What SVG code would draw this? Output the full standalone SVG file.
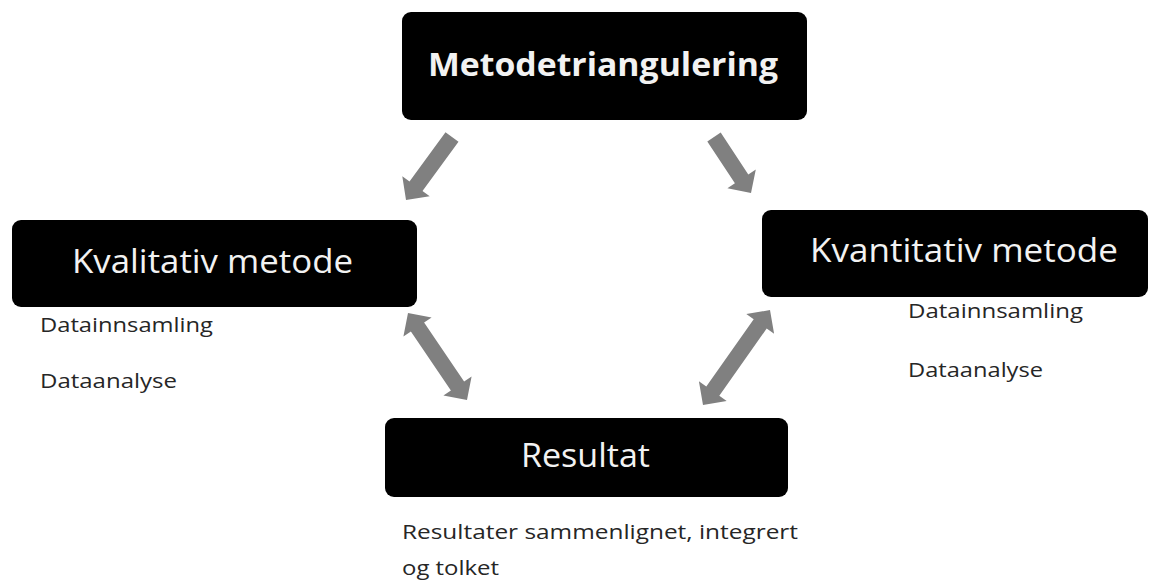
<svg xmlns="http://www.w3.org/2000/svg" width="1158" height="583" viewBox="0 0 1158 583">
  <style>
    .box { fill: #000000; }
    .head { font-family: "Open Sans", "Liberation Sans", sans-serif; fill: #f2f2f2; font-size: 33px; }
    .title { font-weight: bold; font-size: 33px; }
    .note { font-family: "Open Sans", "Liberation Sans", sans-serif; fill: #262626; font-size: 20px; }
    .arrow { fill: #808080; }
  </style>
  <rect width="1158" height="583" fill="#ffffff"/>

  <g id="connectors">
    <!-- Metodetriangulering to Kvalitativ metode -->
    <polygon class="arrow" points="445.5,132.3 409.5,181.6 402.3,176.3 406,200 429.7,196.3 422.5,191 458.5,141.7"/>
    <!-- Metodetriangulering to Kvantitativ metode -->
    <polygon class="arrow" points="707.3,141.4 734.9,183.2 727.4,188.2 751,193 755.8,169.4 748.3,174.4 720.7,132.6"/>
    <!-- Kvalitativ metode and Resultat -->
    <polygon class="arrow" points="403.4,336.6 410.9,331.6 450.9,390.4 443.4,395.4 467,400 471.6,376.4 464.1,381.4 424.1,322.6 431.6,317.6 408,313"/>
    <!-- Kvantitativ metode and Resultat -->
    <polygon class="arrow" points="746.3,314.1 753.7,319.3 706.3,386.5 698.9,381.3 703,405 726.7,400.9 719.3,395.7 766.7,328.5 774.1,333.7 770,310"/>
  </g>

  <g id="metodetriangulering">
    <rect class="box" x="402" y="12" width="405" height="108" rx="9"/>
    <text class="head title" x="428" y="76" textLength="350" lengthAdjust="spacingAndGlyphs">Metodetriangulering</text>
  </g>

  <g id="kvalitativ">
    <rect class="box" x="12" y="220" width="405" height="87" rx="9"/>
    <text class="head" x="72" y="273" textLength="281" lengthAdjust="spacingAndGlyphs">Kvalitativ metode</text>
    <text class="note" x="40" y="332" textLength="173" lengthAdjust="spacingAndGlyphs">Datainnsamling</text>
    <text class="note" x="40" y="388" textLength="137" lengthAdjust="spacingAndGlyphs">Dataanalyse</text>
  </g>

  <g id="kvantitativ">
    <rect class="box" x="762" y="210" width="386" height="87" rx="9"/>
    <text class="head" x="810" y="262" textLength="308" lengthAdjust="spacingAndGlyphs">Kvantitativ metode</text>
    <text class="note" x="908" y="318" textLength="175" lengthAdjust="spacingAndGlyphs">Datainnsamling</text>
    <text class="note" x="908" y="377" textLength="135" lengthAdjust="spacingAndGlyphs">Dataanalyse</text>
  </g>

  <g id="resultat">
    <rect class="box" x="385" y="418" width="403" height="79" rx="9"/>
    <text class="head" x="521" y="467" textLength="129" lengthAdjust="spacingAndGlyphs">Resultat</text>
    <text class="note" x="402" y="539" textLength="396" lengthAdjust="spacingAndGlyphs">Resultater sammenlignet, integrert</text>
    <text class="note" x="402" y="575" textLength="97" lengthAdjust="spacingAndGlyphs">og tolket</text>
  </g>
</svg>
